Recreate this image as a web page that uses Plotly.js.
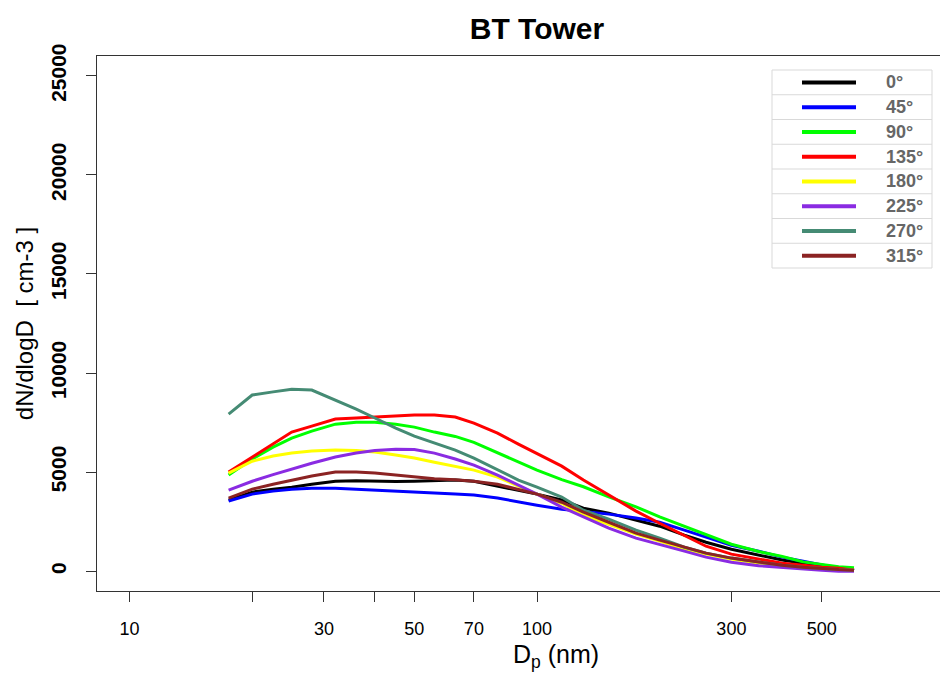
<!DOCTYPE html>
<html>
<head>
<meta charset="utf-8">
<script src="https://cdn.plot.ly/plotly-3.0.1.min.js"></script>
<style>
html, body { margin: 0; padding: 0; overflow: hidden; background: #fff; }
#chart { width: 977px; height: 675px; }
</style>
</head>
<body>
<div id="chart"></div>
<script>
// Particle diameters (nm)
const diameters = [17.5, 20, 22.5, 25, 28, 32, 36, 40, 45, 50, 56, 63, 70, 80, 90, 100, 115, 130, 150, 175, 200, 230, 260, 300, 350, 400, 450, 500, 550, 600];

// dN/dlogD (cm-3) by wind direction
const dir0   = [3590, 3990, 4140, 4240, 4390, 4540, 4570, 4540, 4520, 4540, 4570, 4600, 4540, 4290, 4090, 3890, 3590, 3180, 2930, 2580, 2270, 1820, 1460, 1110, 810, 560, 400, 250, 150, 50];
const dir45  = [3540, 3890, 4040, 4140, 4190, 4190, 4140, 4090, 4010, 3960, 3940, 3890, 3840, 3690, 3480, 3330, 3130, 3030, 2880, 2680, 2470, 2070, 1720, 1310, 1010, 710, 500, 300, 150, 50];
const dir90  = [4850, 5660, 6260, 6720, 7070, 7420, 7520, 7520, 7420, 7270, 7020, 6800, 6500, 5980, 5530, 5100, 4620, 4260, 3750, 3250, 2740, 2270, 1820, 1360, 990, 740, 470, 340, 220, 170];
const dir135 = [5000, 5770, 6450, 7020, 7320, 7680, 7730, 7780, 7850, 7880, 7880, 7780, 7470, 6970, 6410, 5920, 5300, 4600, 3840, 3030, 2420, 1820, 1260, 860, 610, 400, 300, 200, 150, 50];
const dir180 = [4950, 5550, 5810, 5960, 6060, 6110, 6090, 6010, 5860, 5710, 5500, 5280, 5100, 4750, 4290, 3890, 3430, 2830, 2370, 1870, 1520, 1110, 860, 610, 400, 250, 150, 100, 80, 50];
const dir225 = [4090, 4540, 4870, 5150, 5450, 5760, 5960, 6090, 6160, 6140, 5960, 5660, 5350, 4850, 4340, 3890, 3230, 2730, 2170, 1670, 1360, 1010, 710, 450, 280, 180, 100, 50, 0, 0];
const dir270 = [7930, 8890, 9050, 9180, 9140, 8640, 8180, 7730, 7220, 6820, 6460, 6110, 5710, 5100, 4600, 4240, 3740, 3080, 2630, 2070, 1670, 1210, 910, 660, 450, 300, 200, 130, 80, 50];
const dir315 = [3690, 4140, 4390, 4600, 4800, 5000, 5000, 4950, 4850, 4750, 4670, 4620, 4540, 4390, 4140, 3890, 3480, 2980, 2470, 1920, 1570, 1210, 910, 660, 450, 300, 200, 130, 80, 50];

const seriesNames = ['0°', '45°', '90°', '135°', '180°', '225°', '270°', '315°'];
const seriesValues = [dir0, dir45, dir90, dir135, dir180, dir225, dir270, dir315];
const seriesColors = ['#000000', '#0000ff', '#00ff00', '#ff0000', '#ffff00', '#8a2be2', '#458b74', '#8b2323'];

const xTickVals = [10, 30, 50, 70, 100, 300, 500];
const xTickText = ['10', '30', '50', '70', '100', '300', '500'];
const xMinorTickVals = [20, 40];
const yTickVals = [0, 5000, 10000, 15000, 20000, 25000];

// geometry helpers (plot area: left 97px, width 880px, top 56px, height 535px)
const L = 97, W = 880, T = 56, H = 535;
const px = v => (v - L) / W;
const py = v => (T + H - v) / H;
const FONT = 'Arial, Liberation Sans, sans-serif';

const traces = seriesNames.map((n, i) => ({
  x: diameters, y: seriesValues[i], name: n, type: 'scatter', mode: 'lines',
  line: { color: seriesColors[i], width: 3 }, showlegend: false
}));

// manual legend (box with row separators)
const shapes = [];
const annotations = [];
const boxL = 772, boxR = 932, boxT = 70, rowH = 24.75;
const nRows = seriesNames.length;
shapes.push({ type: 'rect', xref: 'paper', yref: 'paper', x0: px(boxL), x1: px(boxR), y0: py(boxT + rowH * nRows), y1: py(boxT),
  line: { color: '#d9d9d9', width: 1 }, fillcolor: '#ffffff', layer: 'above' });
for (let i = 0; i < nRows; i++) {
  const yc = boxT + rowH * (i + 0.5);
  if (i > 0) {
    shapes.push({ type: 'line', xref: 'paper', yref: 'paper', x0: px(boxL), x1: px(boxR), y0: py(boxT + rowH * i), y1: py(boxT + rowH * i),
      line: { color: '#d9d9d9', width: 1 }, layer: 'above' });
  }
  shapes.push({ type: 'line', xref: 'paper', yref: 'paper', x0: px(802), x1: px(856), y0: py(yc), y1: py(yc),
    line: { color: seriesColors[i], width: 4 }, layer: 'above' });
  annotations.push({ xref: 'paper', yref: 'paper', x: px(884), y: py(yc), xanchor: 'left', yanchor: 'middle',
    text: seriesNames[i], showarrow: false, font: { family: FONT, size: 18, color: '#666666', weight: 'bold' } });
}
annotations.push({ xref: 'paper', yref: 'paper', x: px(556), y: py(656), xanchor: 'center', yanchor: 'middle',
  text: 'D<sub>p</sub> (nm)', showarrow: false, font: { family: FONT, size: 25, color: '#000' } });

const layout = {
  width: 977, height: 675,
  margin: { l: L, r: 977 - L - W, t: T, b: 675 - T - H, pad: 0 },
  paper_bgcolor: '#ffffff', plot_bgcolor: '#ffffff',
  font: { family: FONT, color: '#000' },
  title: { text: 'BT Tower', x: 0.5, xref: 'paper', y: 1 - 28 / 675, yanchor: 'middle',
    font: { size: 30, weight: 'bold', color: '#000' } },
  xaxis: {
    type: 'log', range: [0.92, 3.08], showgrid: false, zeroline: false,
    showline: true, mirror: true, linecolor: '#333', linewidth: 1,
    ticks: 'outside', ticklen: 10, tickcolor: '#333', tickwidth: 1,
    tickvals: xTickVals, ticktext: xTickText, ticklabelstandoff: 11,
    minor: { tickvals: xMinorTickVals, ticks: 'outside', ticklen: 10, tickcolor: '#333', tickwidth: 1, showgrid: false },
    tickfont: { size: 18, color: '#000' }
  },
  yaxis: {
    range: [-1000, 26000], showgrid: false, zeroline: false,
    showline: true, linecolor: '#333', linewidth: 1, mirror: true,
    ticks: 'outside', ticklen: 10, tickcolor: '#333', tickwidth: 1,
    tickvals: yTickVals, ticktext: yTickVals.map(String), tickangle: -90, ticklabelstandoff: 12,
    tickfont: { size: 21, weight: 'bold', color: '#000' },
    title: { text: 'dN/dlogD  [ cm-3 ]', standoff: 6, font: { size: 24, color: '#000' } }
  },
  shapes: shapes,
  annotations: annotations,
  showlegend: false
};

Plotly.newPlot('chart', traces, layout, { staticPlot: true, displayModeBar: false });
</script>
</body>
</html>
